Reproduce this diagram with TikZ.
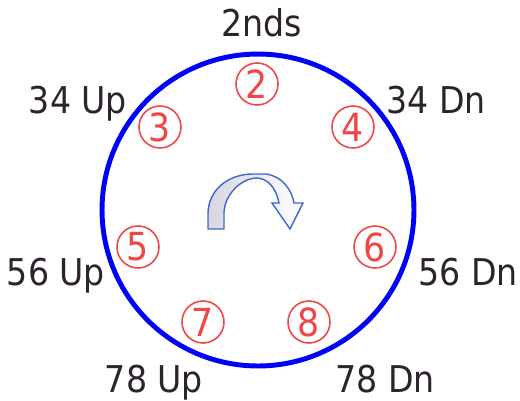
\documentclass[tikz,border=0pt]{standalone}
\usepackage{fontspec}
\setmainfont{DejaVu Sans Condensed}
\definecolor{wheelblue}{RGB}{0,0,250}
\definecolor{slotred}{RGB}{240,70,70}
\definecolor{arrowedge}{RGB}{60,105,205}
\definecolor{arrowfill}{RGB}{215,213,224}
\definecolor{labelgray}{RGB}{45,35,45}
\begin{document}
\begin{tikzpicture}[x=0.02cm, y=-0.02cm,
  wheel/.style={circle, draw=wheelblue, line width=2.8pt, minimum size=6.24cm, inner sep=0pt},
  slot/.style={circle, draw=slotred, line width=0.9pt, text=slotred, minimum size=0.84cm, inner sep=0pt, font=\fontsize{22}{22}\selectfont},
  lbl/.style={anchor=base, text=labelgray, inner sep=0pt, font=\fontsize{21}{21}\selectfont}]
\useasboundingbox (0,0) rectangle (520,400);
\node[wheel] (w) at (258,210) {};
\node[slot] (s2) at (257,84) {2};
\node[slot] (s3) at (160,127) {3};
\node[slot] (s4) at (353,127) {4};
\node[slot] (s5) at (138,247) {5};
\node[slot] (s6) at (375,247) {6};
\node[slot] (s7) at (203,322) {7};
\node[slot] (s8) at (309,322) {8};
\node[lbl] (l2) at (262,36) {2nds};
\node[lbl] (l3) at (78,113) {34 Up};
\node[lbl] (l4) at (436,113) {34 Dn};
\node[lbl] (l5) at (56,285) {56 Up};
\node[lbl] (l6) at (468,285) {56 Dn};
\node[lbl] (l7) at (154,392) {78 Up};
\node[lbl] (l8) at (385,392) {78 Dn};
\shade[left color=arrowfill, right color=white, draw=arrowedge, line width=0.8pt]
  (208,229) -- (208,214) .. controls (208,190) and (228,174) .. (253,174)
  -- (266,174) .. controls (282,176) and (292,190) .. (294,203)
  -- (303,203) -- (290,229) -- (272,203) -- (279,203)
  .. controls (276,188) and (268,178) .. (256,178)
  .. controls (240,179) and (225,195) .. (224,212) -- (224,229) -- cycle;
\end{tikzpicture}
\end{document}
